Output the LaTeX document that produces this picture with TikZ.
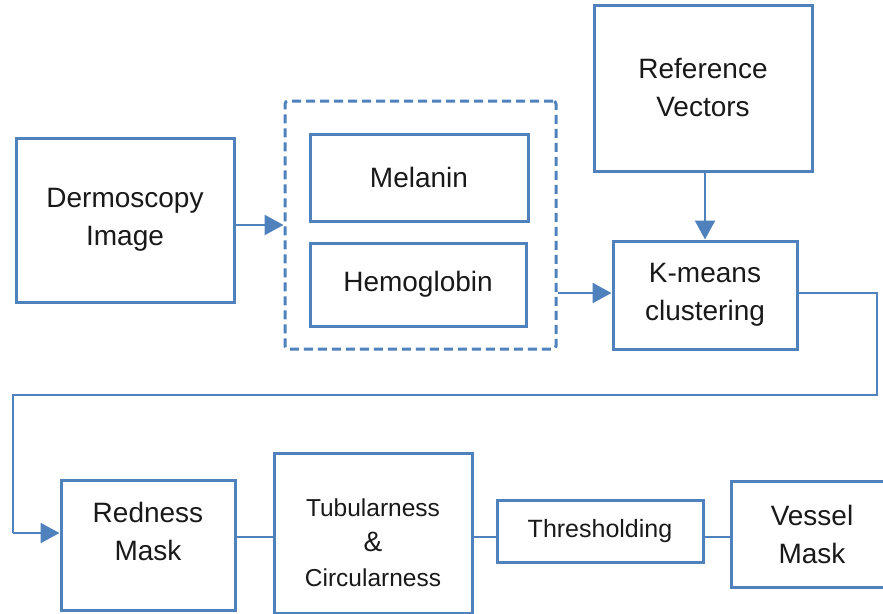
\documentclass[tikz,border=0pt]{standalone}
\usepackage{fontspec}
\setmainfont{Liberation Sans}
\usetikzlibrary{arrows.meta}
\definecolor{boxblue}{RGB}{79,129,189}
\tikzset{
  box/.style={draw=boxblue, line width=3pt, inner sep=0pt, align=center,
    font=\fontsize{28}{38}\selectfont, text=black!90},
  dashbox/.style={draw=boxblue, line width=3pt, dash pattern=on 9pt off 5pt, rounded corners=3pt, inner sep=0pt},
  txt/.style={inner sep=0pt, align=center, font=\fontsize{28}{38}\selectfont, text=black!90},
  conn/.style={draw=boxblue, line width=2.4pt},
  arr/.style={conn, -{Triangle[length=19pt,width=20pt]}},
}
\begin{document}
\begin{tikzpicture}[x=1pt,y=-1pt]
\useasboundingbox (0,0) rectangle (883,613);
% top row
\node[box, minimum width=218, minimum height=164] (derm) at (125,220) {Dermoscopy\\Image};
\node[dashbox, minimum width=271, minimum height=248] (group) at (420.5,225) {};
\node[box, minimum width=218, minimum height=87] (mel) at (419,177.5) {Melanin};
\node[box, minimum width=216, minimum height=83] (hem) at (418,284.5) {Hemoglobin};
\node[box, minimum width=218, minimum height=166] (ref) at (703,88) {Reference\\Vectors};
\node[box, minimum width=184, minimum height=108] (km) at (705,295) {K-means\\clustering};
% bottom row
\node[box, minimum width=174, minimum height=130] (red) at (148,545) {};
\node[txt] (redt) at (148,531) {Redness\\Mask};
\node[box, minimum width=198, minimum height=160] (tub) at (373,533) {};
\node[txt, font=\fontsize{24.5}{35}\selectfont] (tubt) at (373,543) {Tubularness\\{\fontsize{28}{35}\selectfont \&}\\Circularness};
\node[box, minimum width=206, minimum height=62, font=\fontsize{25}{30}\selectfont] (thr) at (600,531) {Thresholding};
\node[box, minimum width=162, minimum height=106] (ves) at (812,534) {Vessel\\Mask};
% connectors
\draw[arr] (derm.east |- 0,225) -- (group.west |- 0,225);
\draw[arr] (group.east |- 0,293) -- (km.west |- 0,293);
\draw[arr] (ref.south -| 705,0) -- (km.north -| 705,0);
\coordinate (c1) at (877,293);
\coordinate (c2) at (877,395);
\coordinate (c3) at (13,395);
\coordinate (c4) at (13,533);
\draw[conn] (km.east |- c1) -- (c1) -- (c2) -- (c3) -- (c4);
\draw[arr] (c4) -- (red.west |- c4);
\draw[conn] (red.east |- 0,537) -- (tub.west |- 0,537);
\draw[conn] (tub.east |- 0,537) -- (thr.west |- 0,537);
\draw[conn] (thr.east |- 0,537) -- (ves.west |- 0,537);
\end{tikzpicture}
\end{document}
